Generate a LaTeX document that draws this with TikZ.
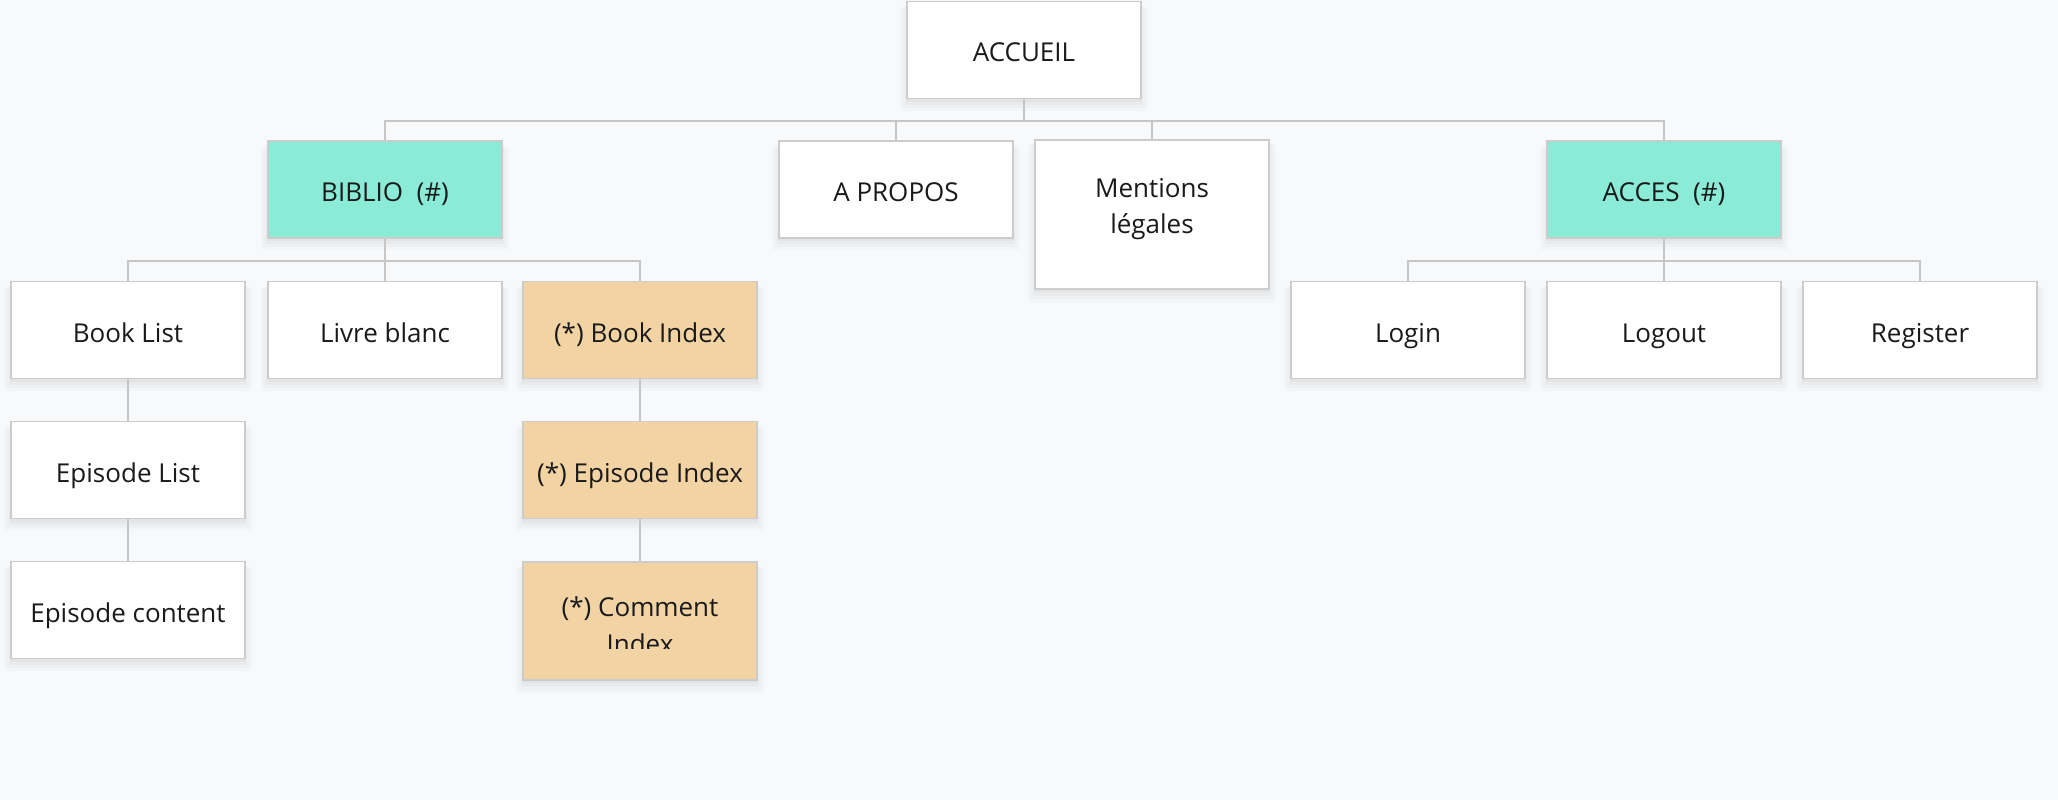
\documentclass[tikz,border=0pt]{standalone}
\usepackage{fontspec}
\setmainfont{Open Sans}
\usetikzlibrary{shadows}
\definecolor{bgc}{HTML}{F8F9FB}
\definecolor{teal1}{HTML}{8AEBD6}
\definecolor{tan1}{HTML}{F2D3A4}
\definecolor{bord}{HTML}{CCCCCC}
\definecolor{conn}{HTML}{C6C6C6}
\definecolor{txt}{HTML}{1A1A1A}
\tikzset{
  softshadow/.style={
    general shadow={shadow xshift=0pt, shadow yshift=-3pt, opacity=0.025, fill=black, shadow scale=1.0},
    general shadow={shadow xshift=0pt, shadow yshift=-5pt, opacity=0.025, fill=black, shadow scale=1.02},
    general shadow={shadow xshift=0pt, shadow yshift=-7pt, opacity=0.02, fill=black, shadow scale=1.04},
    general shadow={shadow xshift=0pt, shadow yshift=-9pt, opacity=0.015, fill=black, shadow scale=1.06}},
  box/.style={draw=bord, line width=1.8pt, fill=white, minimum width=234pt, minimum height=97pt,
    inner sep=0pt, text=txt, font=\fontsize{26}{37}\selectfont, align=center,
    text height=24pt, text depth=0pt, softshadow},
  tealbox/.style={box, fill=teal1},
  tanbox/.style={box, fill=tan1},
  lbl/.style={text=txt, font=\fontsize{26}{36}\selectfont, align=center, inner sep=0pt},
  wire/.style={draw=conn, line width=1.8pt}
}
\begin{document}
\begin{tikzpicture}[x=1pt,y=-1pt]
\fill[bgc] (0,0) rectangle (2058,800);
\useasboundingbox (0,0) rectangle (2058,800);
% connectors
\coordinate (b1) at (1024,121);
\coordinate (b2) at (385,261);
\coordinate (b3) at (1664,261);
% nodes
\node[box] (acc) at (1024,50) {ACCUEIL};
\node[tealbox] (biblio) at (385,189.5) {BIBLIO\ \ (\#)};
\node[box] (apropos) at (896,189.5) {A PROPOS};
\node[box, minimum height=149pt] (mentions) at (1152,214.5) {};
\node[lbl] (mentxt) at (1152,209) {Mentions\\légales};
\node[tealbox] (acces) at (1664,189.5) {ACCES\ \ (\#)};
\node[box] (booklist) at (128,330) {Book List};
\node[box] (livre) at (385,330) {Livre blanc};
\node[tanbox] (bookidx) at (640,330) {(*) Book Index};
\node[box] (login) at (1408,330) {Login};
\node[box] (logout) at (1664,330) {Logout};
\node[box] (register) at (1920,330) {Register};
\node[box] (eplist) at (128,470) {Episode List};
\node[tanbox] (epidx) at (640,470) {(*) Episode Index};
\node[box] (epcont) at (128,610) {Episode content};
\node[tanbox, minimum height=118pt] (comidx) at (640,621) {};
\begin{scope}
\clip (523,562) rectangle (757,648);
\node[lbl, font=\fontsize{26}{37}\selectfont] (comtxt) at (640,625) {(*) Comment\\Index};
\end{scope}
% wires
\draw[wire] (acc.south) -- (acc.south |- b1);
\draw[wire] (biblio.north) -- (biblio.north |- b1) -- (acces.north |- b1) -- (acces.north);
\draw[wire] (apropos.north) -- (apropos.north |- b1);
\draw[wire] (mentions.north) -- (mentions.north |- b1);
\draw[wire] (biblio.south) -- (b2);
\draw[wire] (booklist.north) -- (booklist.north |- b2) -- (bookidx.north |- b2) -- (bookidx.north);
\draw[wire] (livre.north) -- (livre.north |- b2);
\draw[wire] (acces.south) -- (b3);
\draw[wire] (login.north) -- (login.north |- b3) -- (register.north |- b3) -- (register.north);
\draw[wire] (logout.north) -- (logout.north |- b3);
\draw[wire] (booklist.south) -- (eplist.north);
\draw[wire] (eplist.south) -- (epcont.north);
\draw[wire] (bookidx.south) -- (epidx.north);
\draw[wire] (epidx.south) -- (comidx.north);
\end{tikzpicture}
\end{document}
